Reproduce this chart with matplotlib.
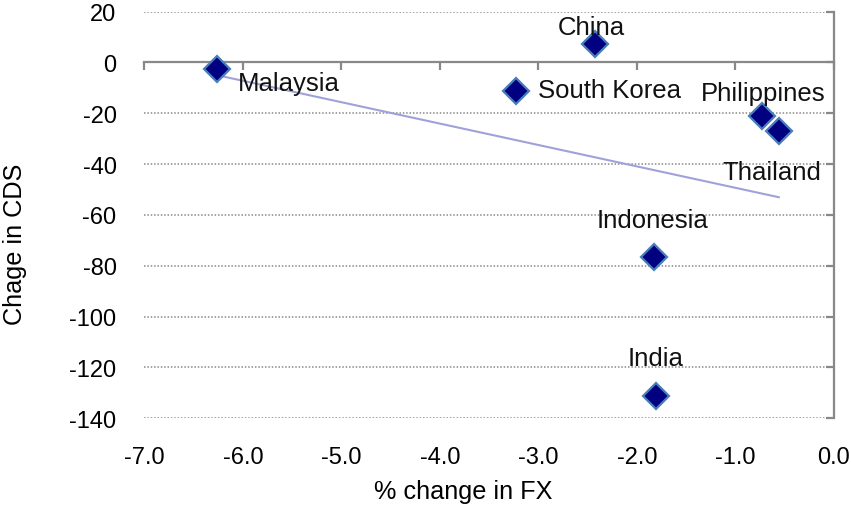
import numpy as np
import matplotlib
matplotlib.use('Agg')
import matplotlib.pyplot as plt

plt.rcParams['font.family'] = ['Liberation Sans', 'DejaVu Sans']
plt.rcParams['axes.unicode_minus'] = False

COUNTRIES = ['Malaysia', 'China', 'South Korea', 'Philippines', 'Thailand', 'Indonesia', 'India']
FX_CHANGE = [-6.26, -2.43, -3.23, -0.73, -0.56, -1.83, -1.81]
CDS_CHANGE = [-2.5, 7.3, -11.2, -20.9, -27.1, -76.7, -131.1]

# label placement: (dx, dy) in points and horizontal alignment
LABEL_POS = {
    'Malaysia': (15, -10, 'left'),
    'China': (-2, 12, 'center'),
    'South Korea': (16, 1, 'left'),
    'Philippines': (1, 16, 'center'),
    'Thailand': (-5, -29, 'center'),
    'Indonesia': (-1, 27, 'center'),
    'India': (0, 27, 'center'),
}

fig = plt.figure(figsize=(8.51, 5.06), dpi=100)
ax = fig.add_axes([0.1696, 0.1713, 0.8104, 0.8037])

x = np.array(FX_CHANGE)
y = np.array(CDS_CHANGE)

# linear trend over the range of the data
slope, icpt = np.polyfit(x, y, 1)
xs = np.array([x.min(), x.max()])
ax.plot(xs, slope * xs + icpt, color='#9ea2d8', lw=1.5, zorder=2)

ax.plot(x, y, ls='none', marker='D', ms=13, mfc='#000080', mec='#4a7ebb',
        mew=1.6, zorder=3)

for name, xi, yi in zip(COUNTRIES, x, y):
    dx, dy, ha = LABEL_POS[name]
    ax.annotate(name, xy=(xi, yi), xytext=(dx, dy), textcoords='offset points',
                ha=ha, va='center', fontsize=18.5, color='#111111', zorder=4)

ax.set_xlim(-7, 0)
ax.set_ylim(-140, 20)
ticks_x = np.arange(-7, 0.5, 1)
ax.set_xticks(ticks_x)
ax.set_xticklabels(['%.1f' % v for v in ticks_x])
ax.set_yticks(np.arange(-140, 21, 20))

ax.grid(axis='y', color='#8a8a8a', ls=(0, (1, 1.2)), lw=1.1, zorder=0)
ax.set_axisbelow(True)

for s in ['top', 'left', 'bottom']:
    ax.spines[s].set_visible(False)
ax.spines['right'].set_color('#888888')
ax.spines['right'].set_linewidth(1.6)

# y ticks sit on the right spine (x = 0), labels stay on the left
ax.tick_params(axis='y', left=False, right=True, direction='in', length=6,
               width=1.6, color='#888888', labelleft=True, labelsize=17, pad=20)
ax.tick_params(axis='x', length=0, labelsize=17, pad=20)

# horizontal axis drawn through y = 0
sec = ax.secondary_xaxis(140 / 160)
sec.set_alignment('bottom')
sec.set_xticks(ticks_x)
sec.tick_params(direction='out', length=6, width=1.6, color='#888888',
                labelbottom=False)
sec.spines['bottom'].set_color('#888888')
sec.spines['bottom'].set_linewidth(1.6)

ax.set_xlabel('% change in FX', fontsize=18.2)
ax.set_ylabel('Chage in CDS', fontsize=18.2)
ax.xaxis.set_label_coords(0.462, -0.149)
ax.yaxis.set_label_coords(-0.170, 0.43)

fig.savefig('out.png', dpi=100)
